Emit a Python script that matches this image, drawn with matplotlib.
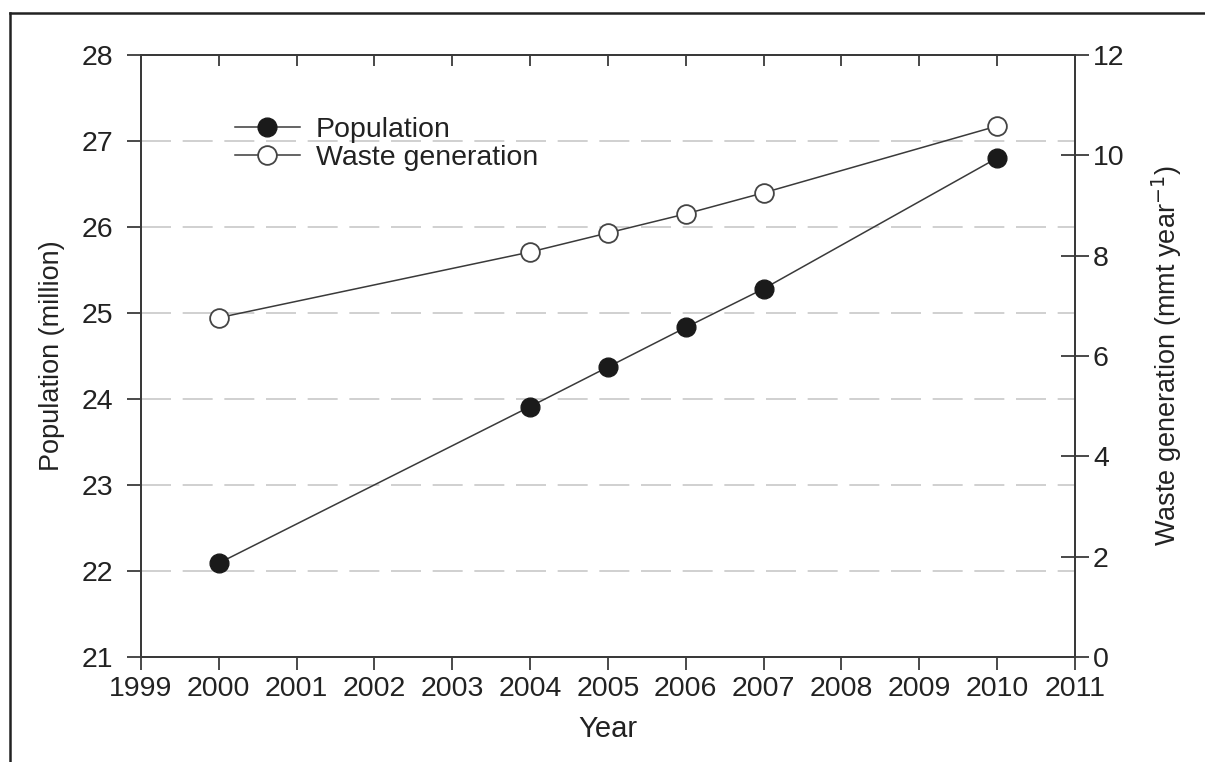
import matplotlib
matplotlib.use('Agg')
import matplotlib.pyplot as plt
from matplotlib.lines import Line2D

plt.rcParams['font.family'] = ['Liberation Sans', 'DejaVu Sans']

years = [2000, 2004, 2005, 2006, 2007, 2010]
population = [22.09, 23.91, 24.37, 24.83, 25.28, 26.80]
waste = [6.76, 8.07, 8.45, 8.83, 9.25, 10.58]

x_ticks = list(range(1999, 2012))
pop_ticks = list(range(21, 29))
waste_ticks = list(range(0, 13, 2))
grid_levels = list(range(22, 28))

line_color = '#3a3a3a'
text_color = '#222222'


def plot_data():
    fig = plt.figure(figsize=(12.05, 7.62), dpi=100)
    ax = fig.add_axes([0.117, 0.138, 0.775, 0.790])
    ax2 = ax.twinx()

    for g in grid_levels:
        ax.axhline(g, color='#c8c8c8', linewidth=1.2, linestyle=(0, (18, 7)), zorder=0)

    h1, = ax.plot(years, population, color=line_color, linewidth=1.1,
                  marker='o', markersize=13.5, markerfacecolor='#1a1a1a',
                  markeredgecolor='#1a1a1a', label='Population', zorder=3)
    h2, = ax2.plot(years, waste, color=line_color, linewidth=1.1,
                   marker='o', markersize=13.5, markerfacecolor='white',
                   markeredgecolor='#444444', markeredgewidth=1.3,
                   label='Waste generation', zorder=3)

    ax.set_xlim(1999, 2011)
    ax.set_ylim(21, 28)
    ax2.set_ylim(0, 12)
    ax.set_xticks(x_ticks)
    ax.set_yticks(pop_ticks)
    ax2.set_yticks(waste_ticks)

    for a in (ax, ax2):
        for s in a.spines.values():
            s.set_color(line_color)
            s.set_linewidth(1.4)

    ax.tick_params(axis='x', which='both', direction='out', length=9, width=1.3,
                   color=line_color, labelsize=20.5, labelcolor=text_color, pad=5,
                   top=True)
    ax.tick_params(axis='y', direction='out', length=10, width=1.3, color=line_color,
                   labelsize=20.5, labelcolor=text_color, pad=10)
    ax2.tick_params(axis='y', direction='inout', length=20, width=1.3, color=line_color,
                    labelsize=20.5, labelcolor=text_color, pad=3)
    # top ticks point inward
    for t in ax.xaxis.get_major_ticks():
        t.tick2line.set_marker(3)
        t.tick2line.set_markersize(8)

    ax.set_xlabel('Year', fontsize=21, color=text_color, labelpad=9)
    ax.set_ylabel('Population (million)', fontsize=19.5, color=text_color, labelpad=12)
    ax2.set_ylabel('Waste generation (mmt year$^{-1}$)', fontsize=19.5,
                   color=text_color, labelpad=18)

    leg = ax.legend(handles=[h1, h2], loc='upper left', bbox_to_anchor=(0.088, 0.915),
                    frameon=False, fontsize=20.5, handlelength=2.3, handletextpad=0.55,
                    labelspacing=0.05, borderaxespad=0)
    for t in leg.get_texts():
        t.set_color(text_color)

    # outer frame (only top and left edges visible)
    fig.add_artist(Line2D([10 / 1205, 1.0], [1 - 13 / 762, 1 - 13 / 762],
                          color='#222222', linewidth=1.8, transform=fig.transFigure))
    fig.add_artist(Line2D([10 / 1205, 10 / 1205], [0.0, 1 - 13 / 762],
                          color='#222222', linewidth=1.8, transform=fig.transFigure))

    fig.savefig('out.png', dpi=100)


if __name__ == '__main__':
    plot_data()
